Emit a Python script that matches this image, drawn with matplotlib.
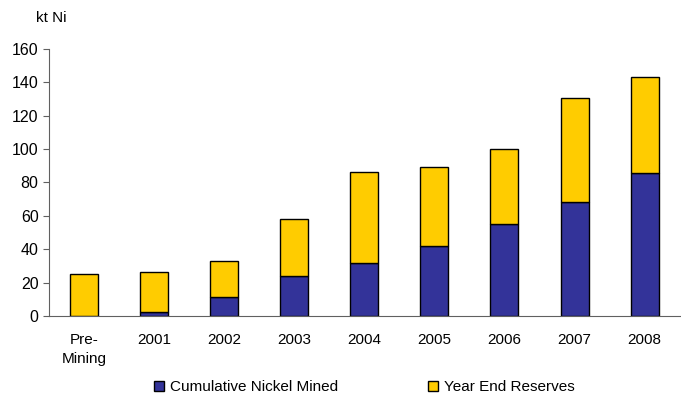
import numpy as np
import matplotlib.pyplot as plt

plt.rcParams['font.family'] = ['Liberation Sans', 'DejaVu Sans']

categories = ["Pre-\nMining", "2001", "2002", "2003", "2004", "2005", "2006", "2007", "2008"]
mined = [0, 2.6, 11.6, 24, 32, 42, 55, 68, 85.5]
reserves = [25, 24, 21.4, 34, 54.5, 47.3, 45, 62.3, 57.5]

navy = "#333399"
gold = "#FFCC00"

fig = plt.figure(figsize=(6.81, 3.94), dpi=100)
ax = fig.add_axes([0.072, 0.198, 0.926, 0.678])

x = np.arange(len(categories))
ax.bar(x, mined, width=0.4, color=navy, edgecolor="black", linewidth=1,
       label="Cumulative Nickel Mined")
ax.bar(x, reserves, width=0.4, bottom=mined, color=gold, edgecolor="black",
       linewidth=1, label="Year End Reserves")

ax.set_xlim(-0.5, 8.5)
ax.set_ylim(0, 160)
ax.set_yticks(np.arange(0, 161, 20))
ax.set_xticks(x)
ax.set_xticklabels(categories, fontsize=11, linespacing=1.5)
ax.tick_params(axis="x", length=0, pad=12)
ax.tick_params(axis="y", labelsize=11.5, length=4, direction="out", color="#606060")
for s in ["top", "right"]:
    ax.spines[s].set_visible(False)
for s in ["left", "bottom"]:
    ax.spines[s].set_color("#606060")

fig.text(0.053, 0.955, "kt Ni", fontsize=11, va="center")

ax.legend(loc="upper center", bbox_to_anchor=(0.5, -0.19), ncol=2, frameon=False,
          fontsize=11, handlelength=0.65, handleheight=0.65, handletextpad=0.4,
          columnspacing=5.9)

fig.savefig("out.png", dpi=100)
